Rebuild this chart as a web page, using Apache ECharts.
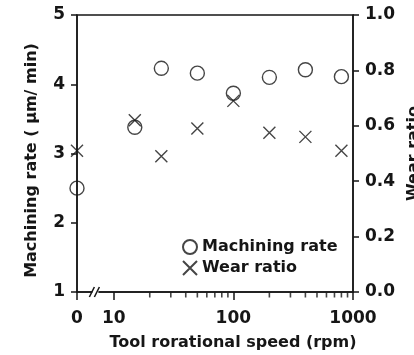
<!DOCTYPE html>
<html>
<head>
<meta charset="utf-8">
<script src="https://cdn.jsdelivr.net/npm/echarts@6/dist/echarts.min.js"></script>
<style>
  html, body { margin: 0; padding: 0; background: #fff; }
  #chart { width: 414px; height: 355px; }
</style>
</head>
<body>
<div id="chart"></div>
<script>
// tool speed (rpm); 0 is drawn left of the axis break
var rpm = [0, 15, 25, 50, 100, 200, 400, 800];
var machiningRate = [2.50, 3.38, 4.23, 4.16, 3.87, 4.10, 4.21, 4.11];
var wearRatio = [0.51, 0.62, 0.49, 0.59, 0.69, 0.575, 0.56, 0.51];
var xMajor = [0, 10, 100, 1000];
var xMinor = [20, 30, 40, 50, 60, 70, 80, 90, 200, 300, 400, 500, 600, 700, 800, 900];

// position of "0" on the log scale (in log10 units)
var zeroPos = 0.693;
var breakPos = 0.855;
function toX(v) { return v === 0 ? zeroPos : Math.log10(v); }

var font = 'DejaVu Sans';
var ink = '#161616';
var crossPath = 'path://M0,0L10,10M10,0L0,10';

var chart = echarts.init(document.getElementById('chart'));

chart.setOption({
  backgroundColor: '#fff',
  animation: false,
  textStyle: { fontFamily: font, color: ink },
  grid: {
    left: 77, right: 61, top: 15, bottom: 63,
    outerBoundsMode: 'none',
    show: true, borderColor: ink, borderWidth: 1.5, backgroundColor: 'transparent'
  },
  legend: {
    orient: 'vertical',
    left: 177, top: 234,
    itemWidth: 14, itemHeight: 14, itemGap: 5,
    textStyle: { fontFamily: font, fontSize: 16, fontWeight: 'bold', color: ink },
    data: ['Machining rate', 'Wear ratio']
  },
  xAxis: {
    type: 'value', min: zeroPos, max: 3, position: 'bottom',
    name: 'Tool rorational speed (rpm)',
    nameLocation: 'middle', nameGap: 43,
    nameTextStyle: { fontFamily: font, fontSize: 16, fontWeight: 'bold', color: ink, padding: [0, 0, 0, 36] },
    axisLine: { show: true, lineStyle: { color: ink, width: 1.5 } },
    axisTick: { show: true, length: 8, lineStyle: { color: ink, width: 1.5 }, customValues: xMajor.map(toX) },
    axisLabel: {
      fontFamily: font, fontSize: 17, fontWeight: 'bold', color: ink, margin: 18,
      customValues: xMajor.map(toX),
      formatter: function (v) { return v < 0.9 ? '0' : String(Math.round(Math.pow(10, v))); }
    },
    splitLine: { show: false }
  },
  yAxis: [
    {
      type: 'value', min: 1, max: 5, interval: 1,
      name: 'Machining rate ( μm/ min)',
      nameLocation: 'middle', nameGap: 37,
      nameTextStyle: { fontFamily: font, fontSize: 16, fontWeight: 'bold', color: ink, padding: [0, 14, 0, 0] },
      axisLine: { show: true, lineStyle: { color: ink, width: 1.5 } },
      axisTick: { show: true, length: 6, lineStyle: { color: ink, width: 1.5 } },
      axisLabel: { fontFamily: font, fontSize: 17, fontWeight: 'bold', color: ink, margin: 12 },
      splitLine: { show: false }
    },
    {
      type: 'value', min: 0, max: 1, interval: 0.2, position: 'right',
      name: 'Wear ratio',
      nameLocation: 'middle', nameGap: 51,
      nameTextStyle: { fontFamily: font, fontSize: 16, fontWeight: 'bold', color: ink },
      axisLine: { show: true, lineStyle: { color: ink, width: 1.5 } },
      axisTick: { show: true, length: 6, lineStyle: { color: ink, width: 1.5 } },
      axisLabel: {
        fontFamily: font, fontSize: 17, fontWeight: 'bold', color: ink, margin: 12,
        formatter: function (v) { return v.toFixed(1); }
      },
      splitLine: { show: false }
    }
  ],
  series: [
    {
      name: 'Machining rate',
      type: 'scatter',
      yAxisIndex: 0,
      symbol: 'circle', symbolSize: 14,
      itemStyle: { color: 'transparent', borderColor: ink, borderWidth: 1.4 },
      data: rpm.map(function (r, i) { return [toX(r), machiningRate[i]]; })
    },
    {
      name: 'Wear ratio',
      type: 'scatter',
      yAxisIndex: 1,
      symbol: crossPath, symbolSize: 12,
      itemStyle: { color: 'transparent', borderColor: ink, borderWidth: 1.4 },
      data: rpm.map(function (r, i) { return [toX(r), wearRatio[i]]; })
    },
    {
      // minor log ticks hanging under the x axis line
      name: 'minor ticks',
      type: 'scatter',
      yAxisIndex: 0,
      silent: true, clip: false,
      symbol: 'rect', symbolSize: [1.6, 5], symbolOffset: [0, 3],
      itemStyle: { color: ink },
      data: xMinor.map(function (v) { return [toX(v), 1]; })
    }
  ]
});

// axis break "//" between 0 and 10
var bp = chart.convertToPixel({ xAxisIndex: 0, yAxisIndex: 0 }, [breakPos, 1]);
chart.setOption({
  graphic: [
    { id: 'gap', type: 'rect', shape: { x: bp[0] - 4, y: bp[1] - 3, width: 6, height: 6 }, style: { fill: '#fff' }, z: 100 },
    { id: 'slash1', type: 'line', shape: { x1: bp[0] - 7, y1: bp[1] + 5, x2: bp[0] - 2, y2: bp[1] - 5 }, style: { stroke: ink, lineWidth: 1.5 }, z: 101 },
    { id: 'slash2', type: 'line', shape: { x1: bp[0] - 2, y1: bp[1] + 5, x2: bp[0] + 3, y2: bp[1] - 5 }, style: { stroke: ink, lineWidth: 1.5 }, z: 101 }
  ]
});
</script>
</body>
</html>
